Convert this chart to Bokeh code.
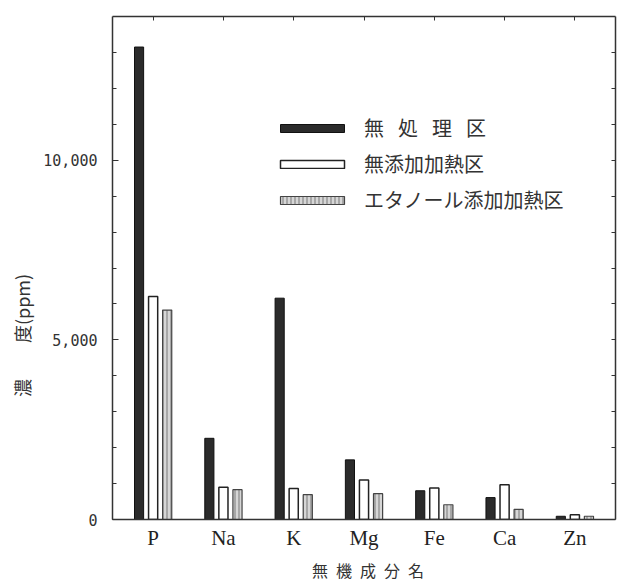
from bokeh.plotting import figure
from bokeh.models import (ColumnDataSource, FactorRange, FixedTicker, LinearAxis,
                          CategoricalAxis, Range1d)
from bokeh.transform import dodge
from bokeh.embed import file_html
from bokeh.resources import INLINE

elements = ["P", "Na", "K", "Mg", "Fe", "Ca", "Zn"]
untreated = [13150, 2260, 6160, 1660, 800, 610, 90]          # 無処理区
heated_plain = [6210, 900, 860, 1100, 880, 970, 130]        # 無添加加熱区
heated_ethanol = [5830, 830, 690, 720, 410, 280, 90]        # エタノール添加加熱区

series_labels = ["無\u2002\u2009処\u2002\u2009理\u2002\u2009区", "無添加加熱区", "エタノール添加加熱区"]
y_major = [0, 5000, 10000]
y_minor = list(range(0, 14000, 1000))

src = ColumnDataSource(dict(elem=elements, a=untreated, b=heated_plain, c=heated_ethanol))

p = figure(width=617, height=584, output_backend="svg", toolbar_location=None,
           x_range=FactorRange(*elements, range_padding=0.078, range_padding_units="absolute"),
           y_range=Range1d(0, 14000),
           min_border_left=112, min_border_right=2, min_border_top=16, min_border_bottom=62)
p.grid.visible = False
p.outline_line_color = None
p.background_fill_color = "white"

bw = 0.13
p.vbar(x=dodge("elem", -0.2, range=p.x_range), top="a", width=bw, source=src,
       fill_color="#2b2b2b", line_color="#111111", line_width=1,
       legend_label=series_labels[0])
p.vbar(x=dodge("elem", 0.0, range=p.x_range), top="b", width=bw, source=src,
       fill_color="white", line_color="#222222", line_width=1.5,
       legend_label=series_labels[1])
p.vbar(x=dodge("elem", 0.2, range=p.x_range), top="c", width=bw, source=src,
       fill_color="#d6d6d6", line_color="#444444", line_width=1.2,
       hatch_pattern="|", hatch_color="#777777", hatch_scale=4, hatch_weight=1,
       legend_label=series_labels[2])

axis_col = "#333333"
# left axis
yax = p.yaxis[0]
yax.ticker = FixedTicker(ticks=y_major, minor_ticks=y_minor)
yax.formatter.use_scientific = False
yax.major_label_overrides = {0: "0", 5000: "5,000", 10000: "10,000"}
yax.major_tick_in = 6
yax.major_tick_out = 0
yax.minor_tick_in = 4
yax.minor_tick_out = 0
yax.axis_line_width = 1.5
yax.axis_line_color = axis_col
yax.major_tick_line_color = axis_col
yax.minor_tick_line_color = axis_col
yax.major_label_text_font = "DejaVu Sans Mono"
yax.major_label_text_font_size = "15px"
yax.major_label_text_color = "#333333"
yax.major_label_standoff = 15
yax.axis_label = "濃\u3000\u3000度(ppm)" + "\u3000" * 7 + "\u2002"
yax.axis_label_text_font = "Noto Sans CJK JP"
yax.axis_label_text_font_size = "18px"
yax.axis_label_text_font_style = "normal"
yax.axis_label_text_color = "#333333"
yax.axis_label_standoff = 5

# bottom axis
xax = p.xaxis[0]
xax.major_tick_line_color = None
xax.minor_tick_line_color = None
xax.major_tick_out = 0
xax.major_tick_in = 0
xax.axis_line_width = 1.5
xax.axis_line_color = axis_col
xax.major_label_text_font = "Liberation Serif"
xax.major_label_text_font_size = "21px"
xax.major_label_text_color = "#222222"
xax.major_label_standoff = 6
xax.axis_label = "\u2002無\u2002機\u2002成\u2002分\u2002名"
xax.axis_label_text_font = "Noto Sans CJK JP"
xax.axis_label_text_font_size = "16px"
xax.axis_label_text_font_style = "normal"
xax.axis_label_text_color = "#333333"
xax.axis_label_standoff = 5

# right axis (ticks only)
rax = LinearAxis(ticker=FixedTicker(ticks=y_minor))
rax.major_label_text_font_size = "1px"
rax.major_label_text_color = None
rax.major_tick_in = 4
rax.major_tick_out = 0
rax.axis_line_width = 1.5
rax.axis_line_color = axis_col
rax.major_tick_line_color = axis_col
rax.major_label_standoff = 0
p.add_layout(rax, "right")

# top axis (ticks only)
tax = CategoricalAxis()
tax.major_label_text_font_size = "1px"
tax.major_label_text_color = None
tax.major_tick_in = 4
tax.major_tick_out = 0
tax.axis_line_width = 1.5
tax.axis_line_color = axis_col
tax.major_tick_line_color = axis_col
tax.major_label_standoff = 0
p.add_layout(tax, "above")

lg = p.legend[0]
lg.location = (160, 305)
lg.border_line_color = None
lg.background_fill_alpha = 0
lg.padding = 0
lg.margin = 0
lg.spacing = 7
lg.glyph_width = 80
lg.glyph_height = 10
lg.label_standoff = 12
lg.label_text_font = "Noto Sans CJK JP"
lg.label_text_font_size = "20px"
lg.label_text_color = "#333333"

open("out.html", "w").write(file_html(p, INLINE))
